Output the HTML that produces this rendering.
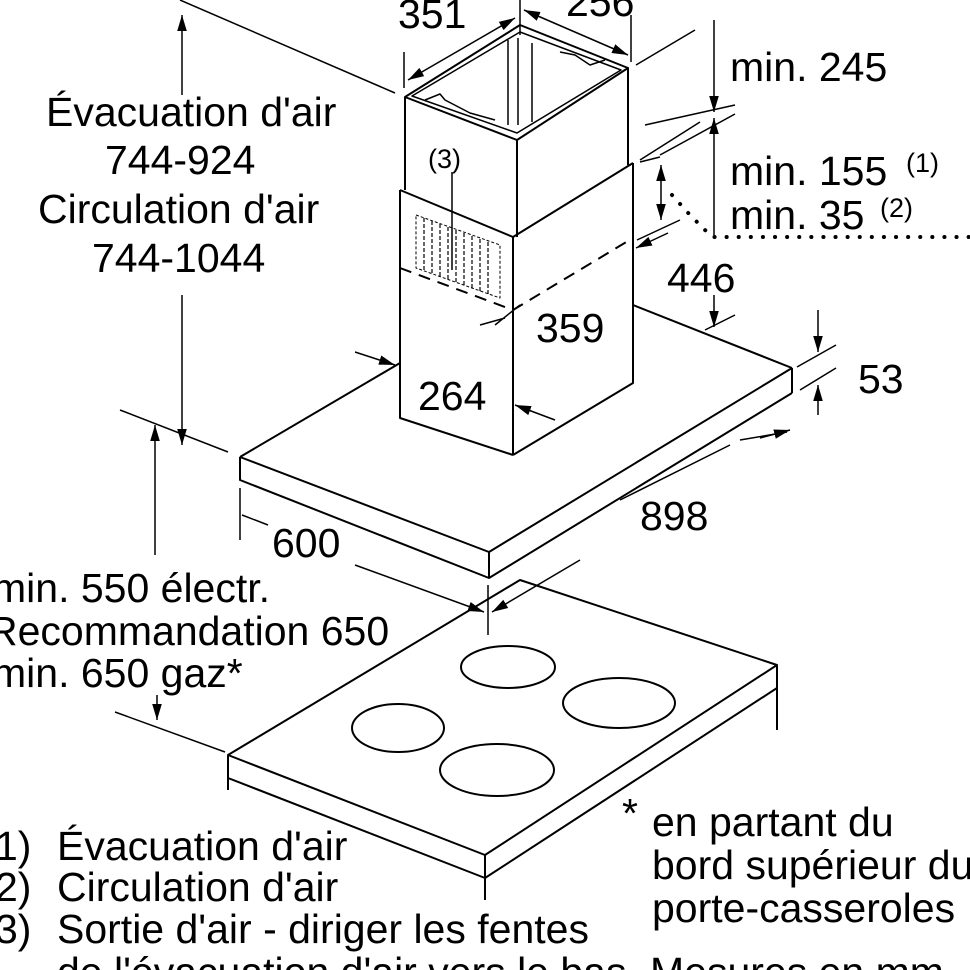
<!DOCTYPE html>
<html><head><meta charset="utf-8"><style>
html,body{margin:0;padding:0;background:#fff;}
svg{display:block;font-family:"Liberation Sans",sans-serif;}
text{font-size:41px;fill:#000;}
.s{font-size:27px;}
</style></head><body>
<svg width="970" height="970" viewBox="0 0 970 970" xmlns="http://www.w3.org/2000/svg">
<defs>
<marker id="b" viewBox="0 0 10 10" refX="10" refY="5" markerWidth="16" markerHeight="16" orient="auto-start-reverse" markerUnits="userSpaceOnUse"><path d="M0,2 L10,5 L0,8z" fill="#000"/></marker>
</defs>
<g stroke="#000" stroke-width="2" fill="none" stroke-linejoin="round">
<path d="M240,457 L489,552 L792,368 M240,457 L240,480 L489,578 L792,393 M489,552 L489,578 M792,368 L792,393"/>
<path d="M240,457 L400,363 M633,305 L792,368"/>
<path d="M400,190 L400,418 L513,455 M513,455 L513,237 M633,163 L633,383 L513,455"/>
<path d="M400,190 L513,237 L633,163"/>
<path d="M405,190 L405,97 L517,140 L628,68 L628,165 M517,140 L517,237"/>
<path d="M405,97 L520,25 L628,68"/>
<path d="M412,96 L520,32 L621,70 L517,133 Z" stroke-width="1.5"/>
<path d="M508,40 L508,125 M518,38 L518,125 M532,43 L532,122" stroke-width="1.5"/>
<path d="M425,100 L440,94 L445,100 L470,113 L495,120 M560,52 L575,55 L590,65 L605,60" stroke-width="1.5"/>
<path d="M400,268 L513,310 L633,238" stroke-dasharray="12,8"/>
<path d="M416,215 L500,245 L500,298 L416,268 Z" stroke-width="1" stroke-dasharray="3,2"/>
<path d="M424,218 V271 M432,221 V274 M440,224 V277 M448,227 V280 M456,230 V283 M464,233 V286 M472,236 V289 M480,239 V292 M488,242 V295" stroke-width="1.2" stroke-dasharray="4,2"/>
<path d="M452,172 L452,270" stroke-width="1.5"/>
<path d="M228,755 L520,580 L777,665 L485,855 Z"/>
<path d="M228,755 L228,790 M228,778 L485,878 L777,688 M485,855 L485,900 M777,665 L777,730"/>
<ellipse cx="508" cy="667" rx="47" ry="21"/>
<ellipse cx="619" cy="703" rx="56" ry="25"/>
<ellipse cx="398" cy="728" rx="46" ry="24"/>
<ellipse cx="497" cy="770" rx="57" ry="26"/>
<path d="M180,0 L395,93" stroke-width="1.5"/>
<path d="M182,95 V15" marker-end="url(#b)" stroke-width="1.5"/>
<path d="M182,295 V445" marker-end="url(#b)" stroke-width="1.5"/>
<path d="M120,410 L228,452" stroke-width="1.5"/>
<path d="M155,555 V425" marker-end="url(#b)" stroke-width="1.5"/>
<path d="M115,712 L225,752" stroke-width="1.5"/>
<path d="M157,695 V720" marker-end="url(#b)" stroke-width="1.5"/>
<path d="M404,52 V88 M520,0 V35 M631,15 V62 M636,65 L695,30" stroke-width="1.5"/>
<path d="M408,80 L515,18" marker-start="url(#b)" marker-end="url(#b)" stroke-width="1.5"/>
<path d="M524,10 L628,55" marker-start="url(#b)" marker-end="url(#b)" stroke-width="1.5"/>
<path d="M714,20 V112" marker-end="url(#b)" stroke-width="1.5"/>
<path d="M645,125 L735,105 M640,162 L660,157 M660,155 L735,114" stroke-width="1.5"/>
<path d="M714,235 V118" marker-end="url(#b)" stroke-width="1.5"/>
<path d="M714,295 V327" marker-end="url(#b)" stroke-width="1.5"/>
<path d="M705,330 L735,315 M640,160 L700,122" stroke-width="1.5"/>
<path d="M661,165 V220" marker-start="url(#b)" marker-end="url(#b)" stroke-width="1.5"/>
<path d="M637,240 L680,220" stroke-width="1.5"/>
<path d="M668,233 L636,248" marker-end="url(#b)" stroke-width="1.5"/>
<path d="M818,310 V352" marker-end="url(#b)" stroke-width="1.5"/>
<path d="M818,415 V385" marker-end="url(#b)" stroke-width="1.5"/>
<path d="M797,367 L836,345 M800,390 L836,368" stroke-width="1.5"/>
<path d="M355,352 L395,365" marker-end="url(#b)" stroke-width="1.5"/>
<path d="M555,420 L515,405" marker-end="url(#b)" stroke-width="1.5"/>
<path d="M520,305 L495,325 M480,325 L505,318" stroke-width="1.5"/>
<path d="M240,488 V540 M268,525 L242,515" stroke-width="1.5"/>
<path d="M355,565 L484,612" marker-end="url(#b)" stroke-width="1.5"/>
<path d="M580,560 L492,612" marker-end="url(#b)" stroke-width="1.5"/>
<path d="M488,585 V635" stroke-width="1.5"/>
<path d="M620,500 L730,445 M740,440 L787,432" stroke-width="1.5"/>
<path d="M760,438 L790,430" marker-end="url(#b)" stroke-width="1.5"/>
</g>
<path d="M672,195 L690,215 L712,237 L970,237" stroke="#000" stroke-width="4" stroke-dasharray="0.1,12" stroke-linecap="round" fill="none"/>
<text x="46" y="126">Évacuation d'air</text>
<text x="105" y="174">744-924</text>
<text x="38" y="223">Circulation d'air</text>
<text x="92" y="272">744-1044</text>
<text x="398" y="28">351</text>
<text x="566" y="16">256</text>
<text x="730" y="81">min. 245</text>
<text x="730" y="185">min. 155</text>
<text class="s" x="906" y="172">(1)</text>
<text x="730" y="229">min. 35</text>
<text class="s" x="880" y="217">(2)</text>
<text x="667" y="292">446</text>
<text x="536" y="342">359</text>
<text x="418" y="410">264</text>
<text x="858" y="393">53</text>
<text x="640" y="530">898</text>
<text x="272" y="557">600</text>
<text class="s" x="428" y="168">(3)</text>
<text x="-8" y="602">min. 550 électr.</text>
<text x="-12" y="645">Recommandation 650</text>
<text x="-8" y="687">min. 650 gaz*</text>
<text x="622" y="827">*</text>
<text x="652" y="836">en partant du</text>
<text x="652" y="879">bord supérieur du</text>
<text x="652" y="922">porte-casseroles</text>
<text x="-5" y="860">1)</text><text x="57" y="860">Évacuation d'air</text>
<text x="-5" y="901">2)</text><text x="57" y="901">Circulation d'air</text>
<text x="-5" y="943">3)</text><text x="57" y="943">Sortie d'air - diriger les fentes</text>
<text x="57" y="986">de l'évacuation d'air vers le bas</text>
<text x="650" y="986">Mesures en mm</text>
</svg>
</body></html>
